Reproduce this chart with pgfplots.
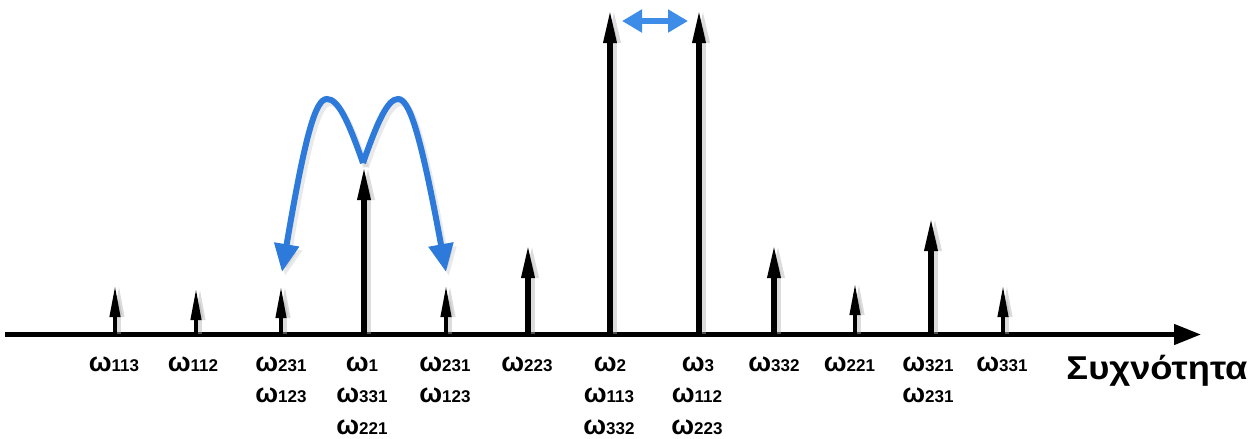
\documentclass[border=0pt]{standalone}
\usepackage{pgfplots}
\pgfplotsset{compat=1.18}
\usepackage{fontspec}
\setmainfont{Liberation Sans}
\usetikzlibrary{arrows.meta}
\definecolor{arrblue}{RGB}{45,122,218}
\definecolor{arrblue2}{RGB}{60,140,232}
\newcommand{\om}[1]{{\fontsize{13.5}{15}\selectfont\bfseries ω{\fontsize{8.5}{10}\selectfont #1}}}
% stem: x position, top (image pixel units, y downward), base on axis line y=334
\newcommand{\smallstem}[2]{%
  \addplot[gray!60, opacity=0.45, line width=2pt, -{Triangle[length=16pt,width=5pt]}]
    coordinates {(#1+4,334) (#1+4,#2)};
  \addplot[black, line width=2pt, -{Triangle[length=16pt,width=5pt]}]
    coordinates {(#1,334) (#1,#2)};}
\newcommand{\bigstem}[2]{%
  \addplot[gray!60, opacity=0.45, line width=3pt, -{Triangle[length=17.5pt,width=6pt]}]
    coordinates {(#1+4,334) (#1+4,#2)};
  \addplot[black, line width=3pt, -{Triangle[length=17.5pt,width=6pt]}]
    coordinates {(#1,334) (#1,#2)};}

\begin{document}
\begin{tikzpicture}
\begin{axis}[
  scale only axis, width=630pt, height=219.5pt,
  xmin=0, xmax=1260, ymin=0, ymax=439, y dir=reverse,
  hide axis, clip=false,
]
% axis line
\addplot[black, line width=2.3pt, -{Triangle[length=13.5pt,width=10pt]}]
  coordinates {(5,334.5) (1201,334.5)};
% stems
\smallstem{115}{285}
\smallstem{196}{288}
\smallstem{281}{286}
\bigstem{364}{165}
\smallstem{446}{285}
\bigstem{528}{243}
\bigstem{610}{8}
\bigstem{699}{8}
\bigstem{774}{243}
\smallstem{855}{283}
\bigstem{931}{216}
\smallstem{1003}{285}

% blue curved arrows (shadows then arrows)
\draw[gray!50, opacity=0.35, line width=3pt, -{Triangle[length=14pt,width=12pt]}]
  (axis cs:366,167) .. controls (axis cs:351,124) and (axis cs:341,103) .. (axis cs:330,103)
  .. controls (axis cs:319,103) and (axis cs:309,134) .. (axis cs:285,276);
\draw[gray!50, opacity=0.35, line width=3pt, -{Triangle[length=14pt,width=12pt]}]
  (axis cs:366,167) .. controls (axis cs:381,124) and (axis cs:391,103) .. (axis cs:401,103)
  .. controls (axis cs:412,103) and (axis cs:423,134) .. (axis cs:449,276);
\draw[arrblue, line width=3pt, -{Triangle[length=14pt,width=12pt]}]
  (axis cs:363,163) .. controls (axis cs:348,120) and (axis cs:338,99) .. (axis cs:327,99)
  .. controls (axis cs:316,99) and (axis cs:306,130) .. (axis cs:282,272);
\draw[arrblue, line width=3pt, -{Triangle[length=14pt,width=12pt]}]
  (axis cs:363,163) .. controls (axis cs:378,120) and (axis cs:388,99) .. (axis cs:398,99)
  .. controls (axis cs:409,99) and (axis cs:420,130) .. (axis cs:446,272);
% top double arrow
\draw[arrblue2, line width=3.4pt, {Triangle[length=10pt,width=11pt]}-{Triangle[length=10pt,width=11pt]}]
  (axis cs:622,21) -- (axis cs:688,21);

% labels row 1
\node[anchor=base] at (axis cs:114,371) {\om{113}};
\node[anchor=base] at (axis cs:193,371) {\om{112}};
\node[anchor=base] at (axis cs:281,371) {\om{231}};
\node[anchor=base] at (axis cs:362,371) {\om{1}};
\node[anchor=base] at (axis cs:445,371) {\om{231}};
\node[anchor=base] at (axis cs:527,371) {\om{223}};
\node[anchor=base] at (axis cs:610,371) {\om{2}};
\node[anchor=base] at (axis cs:698,371) {\om{3}};
\node[anchor=base] at (axis cs:774,371) {\om{332}};
\node[anchor=base] at (axis cs:849.5,371) {\om{221}};
\node[anchor=base] at (axis cs:928,371) {\om{321}};
\node[anchor=base] at (axis cs:1002,371) {\om{331}};
% row 2
\node[anchor=base] at (axis cs:281,402.5) {\om{123}};
\node[anchor=base] at (axis cs:362,402.5) {\om{331}};
\node[anchor=base] at (axis cs:445,402.5) {\om{123}};
\node[anchor=base] at (axis cs:609,402.5) {\om{113}};
\node[anchor=base] at (axis cs:697,402.5) {\om{112}};
\node[anchor=base] at (axis cs:928,402.5) {\om{231}};
% row 3
\node[anchor=base] at (axis cs:362,434) {\om{221}};
\node[anchor=base] at (axis cs:609,434) {\om{332}};
\node[anchor=base] at (axis cs:697,434) {\om{223}};
% axis title
\node[anchor=base] at (axis cs:1157,379) {\scalebox{1.1}[1]{\fontsize{16.5}{18}\selectfont\bfseries Συχνότητα}};
\end{axis}
\pgfresetboundingbox
\useasboundingbox (current axis.south west) rectangle (current axis.north east);
\end{tikzpicture}
\end{document}
